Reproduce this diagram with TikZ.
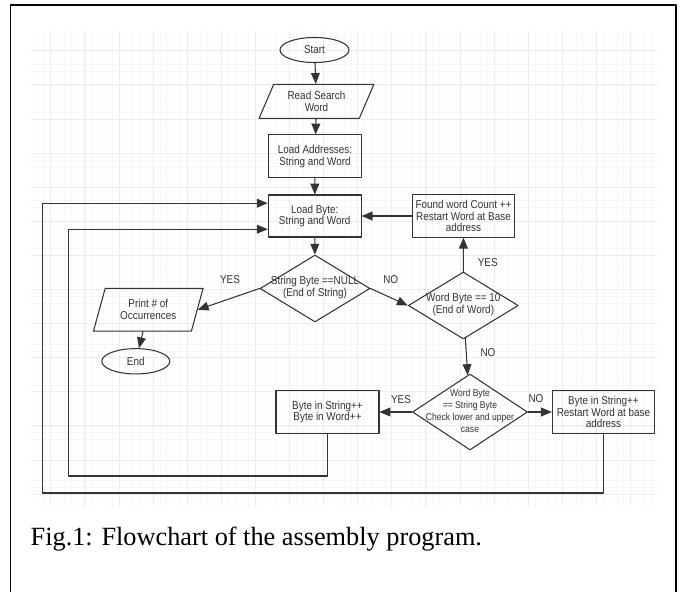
\documentclass[tikz,border=0pt]{standalone}
\usepackage{fontspec}
\setmainfont{Liberation Serif}
\newfontfamily\chartfont{Liberation Sans}[FakeStretch=0.87]
\usepackage{tikz}
\usetikzlibrary{arrows}
\usetikzlibrary{shapes.geometric}
\definecolor{ink}{HTML}{333333}
\definecolor{gridminor}{HTML}{F7F7F7}
\definecolor{gridmajor}{HTML}{ECECEC}
\newcommand{\dtext}[1]{\makebox[0pt]{\begin{tabular}{@{}c@{}}#1\end{tabular}}}
\tikzset{
  chart/.style={draw=ink, line width=0.75pt, text=ink, align=center, inner sep=1pt,
    font=\chartfont\fontsize{8.1}{8.4}\selectfont},
  terminal/.style={chart, ellipse, minimum width=1.725cm, minimum height=0.625cm},
  process/.style={chart, rectangle},
  decision/.style={chart, diamond, inner sep=0pt},
  inout/.style={chart, trapezium, trapezium stretches body=true},
  lbl/.style={text=ink, inner sep=0pt, font=\chartfont\fontsize{8.1}{8.4}\selectfont},
  minorgrid/.style={draw=gridminor, line width=0.35pt},
  majorgrid/.style={draw=gridmajor, line width=0.45pt},
  flow/.style={draw=ink, line width=0.75pt}
}
\begin{document}
\begin{tikzpicture}[line cap=round,line join=round,>=triangle 45,x=0.025cm,
y=-0.025cm]
\useasboundingbox (0,0) rectangle (680,592);
% nen luoi
\begin{scope}
\clip (31,31) rectangle (657,506);
\foreach \i in {-3,...,89}
\draw[minorgrid] ({50.7+\i*6.82},31) -- ({50.7+\i*6.82},506);
\foreach \i in {-3,...,67}
\draw[minorgrid] (31,{50.7+\i*6.82}) -- (657,{50.7+\i*6.82});
\foreach \i in {0,...,17}
\draw[majorgrid] ({50.7+\i*34.1},31) -- ({50.7+\i*34.1},506);
\foreach \i in {0,...,13}
\draw[majorgrid] (31,{50.7+\i*34.1}) -- (657,{50.7+\i*34.1});
\end{scope}
% khung ngoai
\draw[line width=1.1pt] (10.7,592) -- (10.7,5) -- (676,5) -- (676,592);
% cac khoi
\node[terminal] (start) at (314.5,50) {Start};
\node[inout, trapezium left angle=57.5, trapezium right angle=122.5,
minimum width=2.87cm, minimum height=0.85cm] (readword) at (316.5,101.3)
{Read Search\\Word};
\node[process, minimum width=2.325cm, minimum height=1.07cm] (loadaddr)
at (315,156.3) {Load Addresses:\\String and Word};
\node[process, minimum width=2.325cm, minimum height=1.05cm] (loadbyte)
at (314.7,216) {Load Byte:\\String and Word};
\node[process, minimum width=2.56cm, minimum height=1.06cm] (foundword)
at (463.5,216) {Found word Count ++\\Restart Word at Base\\address};
\node[decision, minimum width=2.75cm, minimum height=1.675cm] (strnull)
at (315,288.5) {\dtext{String Byte ==NULL\\(End of String)}};
\node[decision, minimum width=2.75cm, minimum height=1.675cm] (wordend)
at (463.3,305.5) {\dtext{Word Byte == 10\\(End of Word)}};
\node[inout, trapezium left angle=63, trapezium right angle=117,
minimum width=2.74cm, minimum height=1.07cm] (printcount) at (148.3,309.7)
{Print \# of\\Occurrences};
\node[terminal, minimum width=1.7cm, minimum height=0.633cm] (finish)
at (135.8,361.3) {End};
\node[decision, minimum width=2.875cm, minimum height=1.9cm,
font=\chartfont\fontsize{7}{8.5}\selectfont] (bytematch) at (470,412)
{\dtext{Word Byte\\== String Byte\\Check lower and upper\\case}};
\node[process, minimum width=2.575cm, minimum height=1.07cm] (incboth)
at (327.5,412) {Byte in String++\\Byte in Word++};
\node[process, minimum width=2.56cm, minimum height=1.07cm] (restartword)
at (603.5,412) {Byte in String++\\Restart Word at base\\address};
% nhan YES / NO
\node[lbl] (yesnull) at (230,280) {YES};
\node[lbl] (nonull) at (390.7,280) {NO};
\node[lbl] (yesend) at (487.7,262.7) {YES};
\node[lbl] (noend) at (488,353) {NO};
\node[lbl] (yesmatch) at (401,399.3) {YES};
\node[lbl] (nomatch) at (536,399) {NO};
% cac mui ten
\draw[flow,->] (start) -- (readword);
\draw[flow,->] (readword) -- (loadaddr);
\draw[flow,->] (loadaddr) -- (loadbyte);
\draw[flow,->] (loadbyte) -- (strnull);
\draw[flow,->] (strnull.west) -- (printcount.east);
\draw[flow,->] (printcount) -- (finish);
\draw[flow,->] (strnull.east) -- (wordend.west);
\draw[flow,->] (wordend) -- (foundword);
\draw[flow,->] (foundword) -- (loadbyte);
\draw[flow,->] (wordend) -- (bytematch);
\draw[flow,->] (bytematch) -- (incboth);
\draw[flow,->] (bytematch) -- (restartword);
% hai vong lap quay ve
\coordinate (innercorner) at (68.3,476);
\coordinate (outercorner) at (42.7,493);
\draw[flow,->] (incboth.south) |- (innercorner)
|- ([yshift=-0.33cm]loadbyte.west);
\draw[flow,->] (restartword.south) |- (outercorner)
|- ([yshift=0.32cm]loadbyte.west);
% chu thich
\node[anchor=base west, inner sep=0pt, font=\fontsize{18.7}{22}\selectfont]
(caption) at (30.4,545.7) {Fig.1: Flowchart of the assembly program.};
\end{tikzpicture}
\end{document}
